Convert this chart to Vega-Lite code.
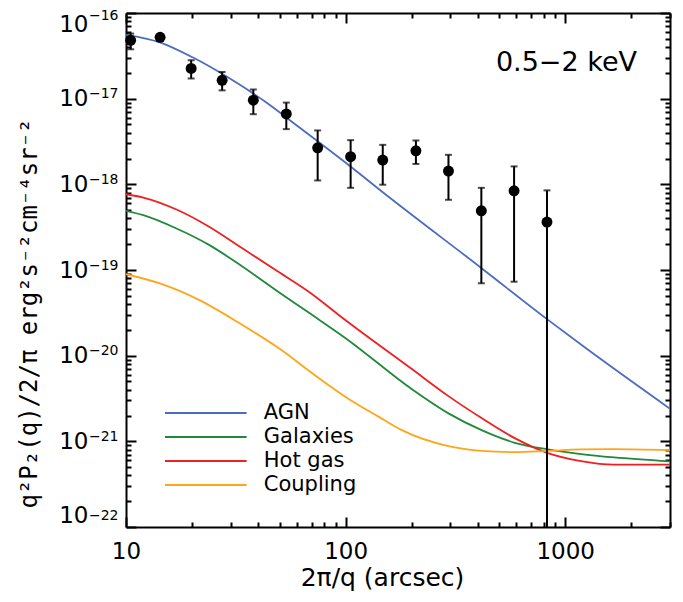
{
  "$schema": "https://vega.github.io/schema/vega-lite/v6.json",
  "width": 544,
  "height": 514,
  "autosize": {"type": "none"},
  "padding": {"left": 126, "top": 13, "right": 13, "bottom": 75},
  "background": "white",
  "config": {
    "view": {"stroke": null},
    "font": "DejaVu Sans",
    "axis": {"grid": false, "domainColor": "black", "domainWidth": 2, "tickColor": "black", "tickWidth": 2, "labelColor": "black", "titleColor": "black", "labelOverlap": false, "labelFont": "DejaVu Sans"}
  },
  "resolve": {"axis": {"x": "independent", "y": "independent"}},
  "title": {"text": "0.5−2 keV", "orient": "top", "anchor": "end", "frame": "group", "offset": -90, "dx": -33, "fontSize": 27, "fontWeight": "normal", "font": "DejaVu Sans", "color": "black", "baseline": "alphabetic"},
  "datasets": {
    "curves": [
      {"angle": 10, "power": 5.57e-17, "component": "AGN"},
      {"angle": 14.26, "power": 4.55e-17, "component": "AGN"},
      {"angle": 20.1, "power": 3.04e-17, "component": "AGN"},
      {"angle": 29.6, "power": 1.73e-17, "component": "AGN"},
      {"angle": 43.4, "power": 9.08e-18, "component": "AGN"},
      {"angle": 61.4, "power": 4.64e-18, "component": "AGN"},
      {"angle": 103.5, "power": 1.67e-18, "component": "AGN"},
      {"angle": 151.7, "power": 7.67e-19, "component": "AGN"},
      {"angle": 416, "power": 1.05e-19, "component": "AGN"},
      {"angle": 826, "power": 2.67e-20, "component": "AGN"},
      {"angle": 1222, "power": 1.26e-20, "component": "AGN"},
      {"angle": 3000, "power": 2.4e-21, "component": "AGN"},
      {"angle": 10, "power": 4.9e-19, "component": "Galaxies"},
      {"angle": 11.98, "power": 4.36e-19, "component": "Galaxies"},
      {"angle": 16.98, "power": 3.05e-19, "component": "Galaxies"},
      {"angle": 24.0, "power": 1.95e-19, "component": "Galaxies"},
      {"angle": 34.0, "power": 1.09e-19, "component": "Galaxies"},
      {"angle": 48.2, "power": 5.81e-20, "component": "Galaxies"},
      {"angle": 68.2, "power": 3.16e-20, "component": "Galaxies"},
      {"angle": 100, "power": 1.6e-20, "component": "Galaxies"},
      {"angle": 200.4, "power": 4.06e-21, "component": "Galaxies"},
      {"angle": 294, "power": 2.12e-21, "component": "Galaxies"},
      {"angle": 416, "power": 1.35e-21, "component": "Galaxies"},
      {"angle": 589, "power": 9.62e-22, "component": "Galaxies"},
      {"angle": 834, "power": 8.05e-22, "component": "Galaxies"},
      {"angle": 1180, "power": 7.1e-22, "component": "Galaxies"},
      {"angle": 1671, "power": 6.49e-22, "component": "Galaxies"},
      {"angle": 3000, "power": 5.83e-22, "component": "Galaxies"},
      {"angle": 10, "power": 7.66e-19, "component": "Hot gas"},
      {"angle": 11.98, "power": 7.01e-19, "component": "Hot gas"},
      {"angle": 16.98, "power": 5.08e-19, "component": "Hot gas"},
      {"angle": 24.0, "power": 3.18e-19, "component": "Hot gas"},
      {"angle": 34.0, "power": 1.78e-19, "component": "Hot gas"},
      {"angle": 48.2, "power": 9.95e-20, "component": "Hot gas"},
      {"angle": 68.2, "power": 5.55e-20, "component": "Hot gas"},
      {"angle": 100, "power": 2.59e-20, "component": "Hot gas"},
      {"angle": 200.4, "power": 6.97e-21, "component": "Hot gas"},
      {"angle": 294, "power": 3.37e-21, "component": "Hot gas"},
      {"angle": 416, "power": 1.87e-21, "component": "Hot gas"},
      {"angle": 589, "power": 1.09e-21, "component": "Hot gas"},
      {"angle": 834, "power": 7.29e-22, "component": "Hot gas"},
      {"angle": 1180, "power": 5.88e-22, "component": "Hot gas"},
      {"angle": 1671, "power": 5.35e-22, "component": "Hot gas"},
      {"angle": 3000, "power": 5.35e-22, "component": "Hot gas"},
      {"angle": 10, "power": 8.93e-20, "component": "Coupling"},
      {"angle": 14.26, "power": 6.97e-20, "component": "Coupling"},
      {"angle": 21.6, "power": 4.45e-20, "component": "Coupling"},
      {"angle": 32.9, "power": 2.39e-20, "component": "Coupling"},
      {"angle": 49.9, "power": 1.21e-20, "component": "Coupling"},
      {"angle": 70.7, "power": 6.2e-21, "component": "Coupling"},
      {"angle": 100, "power": 3.3e-21, "component": "Coupling"},
      {"angle": 141.6, "power": 1.93e-21, "component": "Coupling"},
      {"angle": 180.3, "power": 1.35e-21, "component": "Coupling"},
      {"angle": 294, "power": 8.79e-22, "component": "Coupling"},
      {"angle": 416, "power": 7.74e-22, "component": "Coupling"},
      {"angle": 589, "power": 7.48e-22, "component": "Coupling"},
      {"angle": 834, "power": 7.74e-22, "component": "Coupling"},
      {"angle": 1180, "power": 8.04e-22, "component": "Coupling"},
      {"angle": 1671, "power": 8.11e-22, "component": "Coupling"},
      {"angle": 3000, "power": 7.88e-22, "component": "Coupling"}
    ],
    "points": [
      {"angle": 10.5, "power": 4.8e-17, "low": 3.77e-17, "high": 5.75e-17},
      {"angle": 14.3, "power": 5.21e-17, "low": 4.8e-17, "high": 5.6e-17},
      {"angle": 19.8, "power": 2.25e-17, "low": 1.72e-17, "high": 2.81e-17},
      {"angle": 27.4, "power": 1.64e-17, "low": 1.25e-17, "high": 2.05e-17},
      {"angle": 38.0, "power": 9.6e-18, "low": 6.59e-18, "high": 1.28e-17},
      {"angle": 53.7, "power": 6.64e-18, "low": 4.41e-18, "high": 9.0e-18},
      {"angle": 74.6, "power": 2.67e-18, "low": 1.11e-18, "high": 4.26e-18},
      {"angle": 105.4, "power": 2.1e-18, "low": 9.1e-19, "high": 3.28e-18},
      {"angle": 147.6, "power": 1.92e-18, "low": 9.9e-19, "high": 2.89e-18},
      {"angle": 209, "power": 2.46e-18, "low": 1.73e-18, "high": 3.25e-18},
      {"angle": 294, "power": 1.43e-18, "low": 6.6e-19, "high": 2.21e-18},
      {"angle": 415, "power": 4.91e-19, "low": 7.0e-20, "high": 9.1e-19},
      {"angle": 585, "power": 8.4e-19, "low": 7.3e-20, "high": 1.62e-18},
      {"angle": 826, "power": 3.63e-19, "low": 1e-24, "high": 8.5e-19}
    ]
  },
  "layer": [
    {
      "data": {"name": "curves"},
      "mark": {"type": "line", "interpolate": "monotone", "strokeWidth": 1.8, "clip": true},
      "encoding": {
        "x": {
          "field": "angle", "type": "quantitative",
          "scale": {"type": "log", "domain": [10, 3000], "nice": false},
          "axis": {
            "orient": "bottom", "values": [10, 100, 1000], "format": "d",
            "tickSize": -10, "labelPadding": 23, "labelFontSize": 23, "labelFlush": false,
            "title": "2π/q (arcsec)", "titleFontSize": 25, "titleFontWeight": "normal", "titleFont": "DejaVu Sans",
            "titleX": 256, "titleY": 58, "titleAlign": "center", "titleBaseline": "alphabetic"
          }
        },
        "y": {
          "field": "power", "type": "quantitative",
          "scale": {"type": "log", "domain": [1e-22, 1e-16], "nice": false},
          "axis": {
            "orient": "left", "values": [1e-22, 1e-21, 1e-20, 1e-19, 1e-18, 1e-17, 1e-16],
            "labelExpr": "'10'", "tickSize": -10, "labelPadding": 48, "labelFontSize": 23, "labelFlush": true,
            "title": "q²P₂(q)/2/π  erg²s⁻²cm⁻⁴sr⁻²", "titleFontSize": 24, "titleFontWeight": "normal", "titleFont": "DejaVu Sans Mono",
            "titleAngle": -90, "titleAlign": "center", "titleBaseline": "alphabetic", "titleX": -90, "titleY": 300
          }
        },
        "color": {
          "field": "component", "type": "nominal",
          "scale": {"domain": ["AGN", "Galaxies", "Hot gas", "Coupling"], "range": ["#4b6cc0", "#208a3a", "#ee2020", "#ffa51a"]},
          "legend": {
            "orient": "none", "legendX": 66.8, "legendY": 387, "title": null, "padding": 0,
            "symbolType": "M-3.4,0H3.4", "symbolSize": 576, "symbolStrokeWidth": 2,
            "labelFontSize": 21, "labelFont": "DejaVu Sans", "labelColor": "black", "labelOffset": 45, "rowPadding": 1
          }
        }
      }
    },
    {
      "data": {"name": "points"},
      "mark": {"type": "rule", "color": "black", "strokeWidth": 2, "clip": true},
      "encoding": {
        "x": {
          "field": "angle", "type": "quantitative",
          "axis": {"orient": "bottom", "values": [20, 30, 40, 50, 60, 70, 80, 90, 200, 300, 400, 500, 600, 700, 800, 900, 2000, 3000], "tickSize": -5, "labels": false, "domain": false, "title": null}
        },
        "y": {
          "field": "low", "type": "quantitative",
          "axis": {
            "orient": "left", "values": [1e-22, 1e-21, 1e-20, 1e-19, 1e-18, 1e-17, 1e-16],
            "ticks": false, "tickSize": 0, "domain": false, "title": null,
            "labelExpr": "['−22','−21','−20','−19','−18','−17','−16'][round(log(datum.value)/LN10) + 22]",
            "labelFontSize": 14, "labelPadding": 8, "labelOffset": -5, "labelFlush": true
          }
        },
        "y2": {"field": "high"}
      }
    },
    {
      "data": {"name": "points"},
      "mark": {"type": "tick", "orient": "horizontal", "color": "black", "size": 7, "thickness": 2, "clip": true},
      "encoding": {
        "x": {
          "field": "angle", "type": "quantitative",
          "axis": {"orient": "top", "values": [10, 100, 1000], "tickSize": -10, "labels": false, "title": null}
        },
        "y": {
          "field": "low", "type": "quantitative",
          "axis": {"orient": "left", "values": [2e-22, 3e-22, 4e-22, 5e-22, 6e-22, 7e-22, 8e-22, 9e-22, 2e-21, 3e-21, 4e-21, 5e-21, 6e-21, 7e-21, 8e-21, 9e-21, 2e-20, 3e-20, 4e-20, 5e-20, 6e-20, 7e-20, 8e-20, 9e-20, 2e-19, 3e-19, 4e-19, 5e-19, 6e-19, 7e-19, 8e-19, 9e-19, 2e-18, 3e-18, 4e-18, 5e-18, 6e-18, 7e-18, 8e-18, 9e-18, 2e-17, 3e-17, 4e-17, 5e-17, 6e-17, 7e-17, 8e-17, 9e-17], "tickSize": -5, "labels": false, "domain": false, "title": null}
        }
      }
    },
    {
      "data": {"name": "points"},
      "mark": {"type": "tick", "orient": "horizontal", "color": "black", "size": 7, "thickness": 2, "clip": true},
      "encoding": {
        "x": {
          "field": "angle", "type": "quantitative",
          "axis": {"orient": "top", "values": [20, 30, 40, 50, 60, 70, 80, 90, 200, 300, 400, 500, 600, 700, 800, 900, 2000, 3000], "tickSize": -5, "labels": false, "domain": false, "title": null}
        },
        "y": {
          "field": "high", "type": "quantitative",
          "axis": {"orient": "right", "values": [1e-22, 1e-21, 1e-20, 1e-19, 1e-18, 1e-17, 1e-16], "tickSize": -10, "labels": false, "title": null}
        }
      }
    },
    {
      "data": {"name": "points"},
      "mark": {"type": "circle", "color": "black", "size": 120, "opacity": 1},
      "encoding": {
        "x": {"field": "angle", "type": "quantitative", "axis": null},
        "y": {
          "field": "power", "type": "quantitative",
          "axis": {"orient": "right", "values": [2e-22, 3e-22, 4e-22, 5e-22, 6e-22, 7e-22, 8e-22, 9e-22, 2e-21, 3e-21, 4e-21, 5e-21, 6e-21, 7e-21, 8e-21, 9e-21, 2e-20, 3e-20, 4e-20, 5e-20, 6e-20, 7e-20, 8e-20, 9e-20, 2e-19, 3e-19, 4e-19, 5e-19, 6e-19, 7e-19, 8e-19, 9e-19, 2e-18, 3e-18, 4e-18, 5e-18, 6e-18, 7e-18, 8e-18, 9e-18, 2e-17, 3e-17, 4e-17, 5e-17, 6e-17, 7e-17, 8e-17, 9e-17], "tickSize": -5, "labels": false, "domain": false, "title": null}
        }
      }
    }
  ]
}
